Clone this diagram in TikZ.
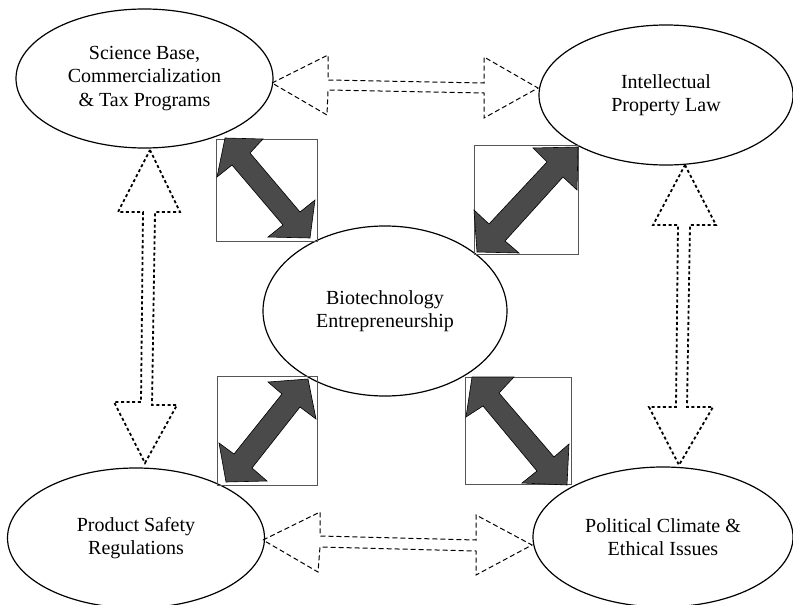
\documentclass[tikz,border=0pt]{standalone}
\usepackage{fontspec}
\setmainfont{Liberation Serif}
\usetikzlibrary{shapes.geometric}
\definecolor{arrowgray}{HTML}{4A4A4A}
\definecolor{boxgray}{HTML}{555555}
\tikzset{
  bubble/.style={ellipse, draw=black, line width=1.2pt, fill=white, inner sep=0pt,
    align=center, font=\fontsize{20}{23.5}\selectfont},
  hollowdash/.style={draw=black, line width=1pt, dash pattern=on 5pt off 3pt},
  hollowdot/.style={draw=black, line width=1.8pt, dash pattern=on 3pt off 2.6pt},
  framebox/.style={draw=boxgray, line width=1pt},
  solidarrow/.style={fill=arrowgray, draw=black, line width=0.6pt, line join=miter}
}
\begin{document}
\begin{tikzpicture}[x=1pt,y=-1pt]
\useasboundingbox[fill=white] (0,0) rectangle (793,605);
% ellipses
\node[bubble, minimum width=257pt, minimum height=139pt] (sci) at (144.5,78.5)
  {Science Base,\\Commercialization\\\& Tax Programs};
\node[bubble, minimum width=254pt, minimum height=140pt] (ipl) at (666,95)
  {Intellectual\\Property Law};
\node[bubble, minimum width=244pt, minimum height=170pt] (bio) at (385,311)
  {Biotechnology\\Entrepreneurship};
\node[bubble, minimum width=257pt, minimum height=140pt] (psr) at (136,538)
  {Product Safety\\Regulations};
\node[bubble, minimum width=260pt, minimum height=140pt] (pol) at (663,537)
  {Political Climate \&\\Ethical Issues};
% hollow dashed horizontal arrows
\draw[hollowdash] (272,83) -- (328,55) -- (328,80) -- (484,83) -- (484,57) -- (538,88)
  -- (484,118) -- (484,93) -- (328,90) -- (327,115) -- cycle;
\draw[hollowdash] (263,540) -- (320,512) -- (320,536) -- (476,540) -- (476,515) -- (532,545)
  -- (476,575) -- (476,551) -- (320,547) -- (318,572) -- cycle;
% hollow dotted vertical arrows
\draw[hollowdot] (150,150) -- (180,212) -- (155,212) -- (152,405) -- (177,405) -- (145,463)
  -- (114,402) -- (141,402) -- (143,212) -- (118,212) -- cycle;
\draw[hollowdot] (685,165) -- (716,225) -- (690,225) -- (687,407) -- (713,407) -- (679,465)
  -- (649,407) -- (676,407) -- (678,225) -- (653,225) -- cycle;
% framed solid arrows
\draw[framebox] (216,139) rectangle (317,241);
\draw[solidarrow] (225,138) -- (263,139) -- (250,153) -- (300,212) -- (315,200) -- (310,238)
  -- (268,237) -- (283,225) -- (232,165) -- (217,177) -- cycle;
\draw[framebox] (474,145) rectangle (578,254);
\draw[solidarrow] (533,148) -- (578,147) -- (577,190) -- (563,177) -- (505,241) -- (519,253)
  -- (477,252) -- (474,210) -- (489,224) -- (547,162) -- cycle;
\draw[framebox] (217,376) rectangle (317,485);
\draw[solidarrow] (268,382) -- (308,379) -- (316,419) -- (300,407) -- (252,468) -- (267,481)
  -- (226,482) -- (219,443) -- (234,454) -- (282,394) -- cycle;
\draw[framebox] (465,377) rectangle (571,484);
\draw[solidarrow] (472,377) -- (514,377) -- (499,393) -- (554,457) -- (569,444) -- (567,485)
  -- (522,483) -- (537,471) -- (483,406) -- (466,417) -- cycle;
\end{tikzpicture}
\end{document}
